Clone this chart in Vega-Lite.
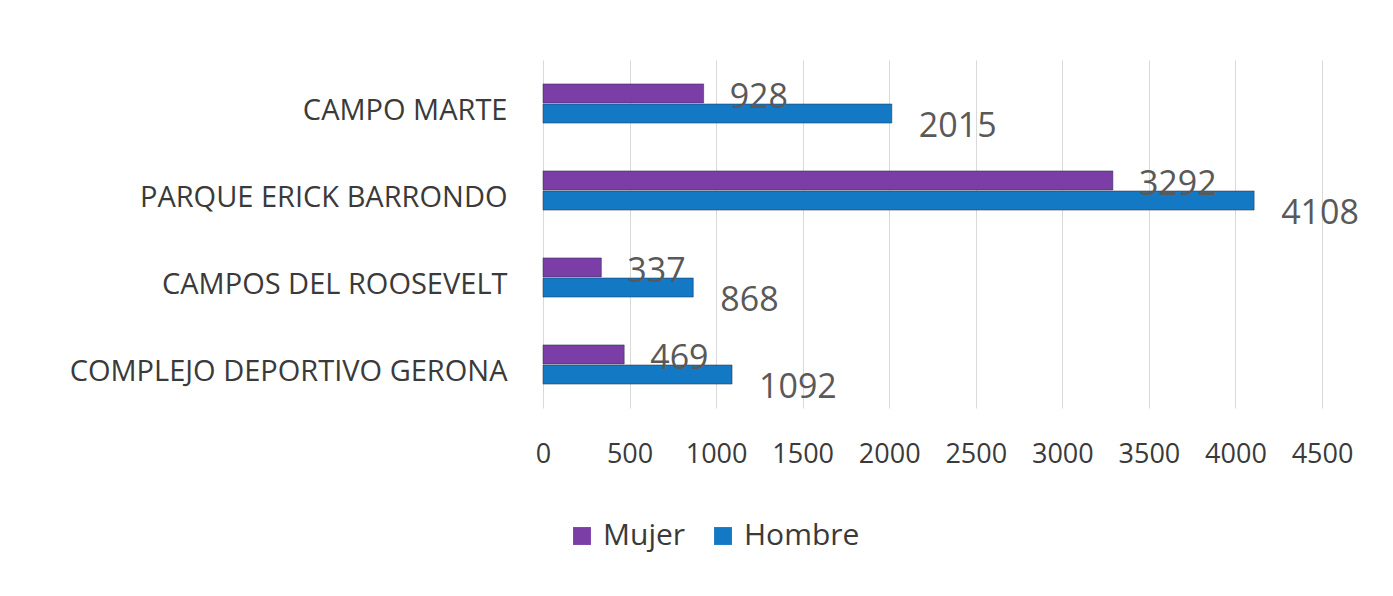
{
  "$schema": "https://vega.github.io/schema/vega-lite/v6.json",
  "width": 779,
  "height": 348,
  "autosize": {"type": "none"},
  "padding": {"left": 543, "top": 60, "right": 71, "bottom": 188},
  "background": "white",
  "config": {"view": {"stroke": null}, "font": "Open Sans"},
  "data": {
    "values": [
      {"lugar": "CAMPO MARTE", "sexo": "Mujer", "valor": 928},
      {"lugar": "CAMPO MARTE", "sexo": "Hombre", "valor": 2015},
      {"lugar": "PARQUE ERICK BARRONDO", "sexo": "Mujer", "valor": 3292},
      {"lugar": "PARQUE ERICK BARRONDO", "sexo": "Hombre", "valor": 4108},
      {"lugar": "CAMPOS DEL ROOSEVELT", "sexo": "Mujer", "valor": 337},
      {"lugar": "CAMPOS DEL ROOSEVELT", "sexo": "Hombre", "valor": 868},
      {"lugar": "COMPLEJO DEPORTIVO GERONA", "sexo": "Mujer", "valor": 469},
      {"lugar": "COMPLEJO DEPORTIVO GERONA", "sexo": "Hombre", "valor": 1092}
    ]
  },
  "encoding": {
    "y": {
      "field": "lugar", "type": "nominal", "sort": null, "title": null,
      "scale": {"paddingInner": 0.55, "paddingOuter": 0.275},
      "axis": {"domain": false, "ticks": false, "labelPadding": 36, "labelFontSize": 29, "labelColor": "#3a3a3a", "labelOffset": 7, "labelLimit": 600}
    },
    "x": {
      "field": "valor", "type": "quantitative", "title": null,
      "scale": {"domain": [0, 4500], "nice": false},
      "axis": {"values": [0,500,1000,1500,2000,2500,3000,3500,4000,4500], "format": "d", "domain": false, "ticks": false, "gridColor": "#d9d9d9", "labelPadding": 33, "labelFontSize": 27, "labelColor": "#3a3a3a", "labelFlush": false}
    },
    "yOffset": {"field": "sexo", "type": "nominal", "sort": ["Mujer", "Hombre"], "scale": {"paddingInner": 0.05}}
  },
  "layer": [
    {
      "mark": {"type": "bar", "stroke": "#1f2d4a", "strokeWidth": 1, "strokeOpacity": 0.5},
      "encoding": {
        "color": {
          "field": "sexo", "type": "nominal", "sort": ["Mujer", "Hombre"],
          "scale": {"domain": ["Mujer", "Hombre"], "range": ["#7a3ea6", "#1479c4"]},
          "legend": {"title": null, "orient": "none", "direction": "horizontal", "legendX": 24, "legendY": 461, "symbolType": "square", "symbolSize": 320, "labelFontSize": 30, "labelColor": "#3a3a3a", "columnPadding": 22, "labelOffset": 6, "symbolStrokeWidth": 0}
        }
      }
    },
    {
      "transform": [{"filter": "datum.sexo == 'Mujer'"}],
      "mark": {"type": "text", "align": "left", "dx": 26, "dy": 5, "fontSize": 34, "color": "#595959"},
      "encoding": {"text": {"field": "valor", "type": "quantitative"}}
    },
    {
      "transform": [{"filter": "datum.sexo == 'Hombre'"}],
      "mark": {"type": "text", "align": "left", "dx": 27, "dy": 13, "fontSize": 34, "color": "#595959"},
      "encoding": {"text": {"field": "valor", "type": "quantitative"}}
    }
  ]
}
